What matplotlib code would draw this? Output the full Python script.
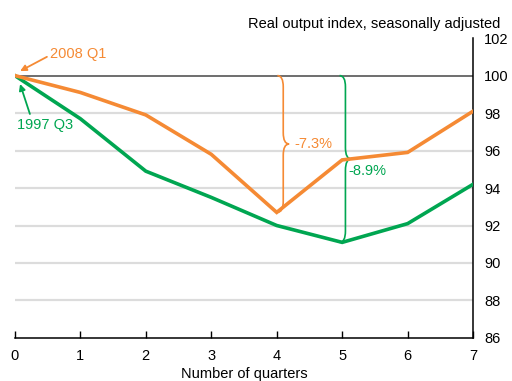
import numpy as np
import matplotlib.pyplot as plt
from matplotlib.path import Path
from matplotlib.patches import PathPatch

plt.rcParams['font.family'] = ['Liberation Sans', 'DejaVu Sans']

# Real output index after the start of each recession (start = 100)
quarters = [0, 1, 2, 3, 4, 5, 6, 7]
idx_2008 = [100, 99.1, 97.9, 95.8, 92.7, 95.5, 95.9, 98.1]
idx_1997 = [100, 97.7, 94.9, 93.5, 92.0, 91.1, 92.1, 94.2]
y_ticks = [86, 88, 90, 92, 94, 96, 98, 100, 102]

orange = '#F58A34'
green = '#00A651'


def brace(ax, x, ytop, ybot, color, w=0.18, r=0.6):
    # vertical curly brace, hooks point left, cusp points right
    ymid = (ytop + ybot) / 2
    verts = [(x - w / 2, ytop), (x, ytop), (x, ytop - r),
             (x, ymid + r), (x, ymid), (x + w / 2, ymid),
             (x, ymid), (x, ymid - r),
             (x, ybot + r), (x, ybot), (x - w / 2, ybot)]
    codes = [Path.MOVETO, Path.CURVE3, Path.CURVE3,
             Path.LINETO, Path.CURVE3, Path.CURVE3,
             Path.CURVE3, Path.CURVE3,
             Path.LINETO, Path.CURVE3, Path.CURVE3]
    ax.add_patch(PathPatch(Path(verts, codes), fill=False, edgecolor=color, lw=1.2))


fig = plt.figure(figsize=(5.12, 3.81), dpi=100)
ax = fig.add_axes([0.029, 0.113, 0.895, 0.787])

for yt in y_ticks[1:-1]:
    if yt == 100:
        ax.axhline(yt, color='#555555', lw=1.2, zorder=1)
    else:
        ax.axhline(yt, color='#dcdcdc', lw=1.6, zorder=0)

ax.plot(quarters, idx_1997, color=green, lw=2.6, zorder=3, solid_joinstyle='miter')
ax.plot(quarters, idx_2008, color=orange, lw=2.6, zorder=4, solid_joinstyle='miter')

# peak-to-trough falls
drop_2008 = min(idx_2008) - 100
drop_1997 = min(idx_1997) - 100
brace(ax, 4.1, 100, min(idx_2008), orange)
brace(ax, 5.05, 100, min(idx_1997), green)
ax.text(4.27, (100 + min(idx_2008)) / 2, f'{drop_2008:.1f}%', color=orange,
        fontsize=10.5, va='center', ha='left')
ax.text(5.1, (100 + min(idx_1997)) / 2 - 0.25, f'{drop_1997:.1f}%', color=green,
        fontsize=10.5, va='top', ha='left')

# start-quarter labels with arrows
arrow = dict(arrowstyle='-|>', lw=1.3, mutation_scale=9, shrinkA=0, shrinkB=0)
ax.annotate('', xy=(0.08, 100.24), xytext=(0.49, 101.0),
            arrowprops=dict(arrow, color=orange))
ax.text(0.53, 101.15, '2008 Q1', color=orange, fontsize=10.5, va='center', ha='left')
ax.annotate('', xy=(0.08, 99.55), xytext=(0.23, 97.95),
            arrowprops=dict(arrow, color=green))
ax.text(0.03, 97.35, '1997 Q3', color=green, fontsize=10.5, va='center', ha='left')

ax.set_xlim(0, 7)
ax.set_ylim(86, 102)
ax.set_xticks(quarters)
ax.set_yticks(y_ticks)
ax.yaxis.tick_right()
ax.tick_params(axis='y', length=0, labelsize=10.5, pad=8)
ax.tick_params(axis='x', direction='in', length=5, width=1, labelsize=10.5, pad=8)
for s in ['top', 'left']:
    ax.spines[s].set_visible(False)
for s in ['right', 'bottom']:
    ax.spines[s].set_linewidth(1.1)
ax.set_xlabel('Number of quarters', fontsize=10.5, labelpad=3)
ax.text(1.06, 1.025, 'Real output index, seasonally adjusted', transform=ax.transAxes,
        ha='right', va='bottom', fontsize=10.5)

fig.savefig('out.png', dpi=100)
